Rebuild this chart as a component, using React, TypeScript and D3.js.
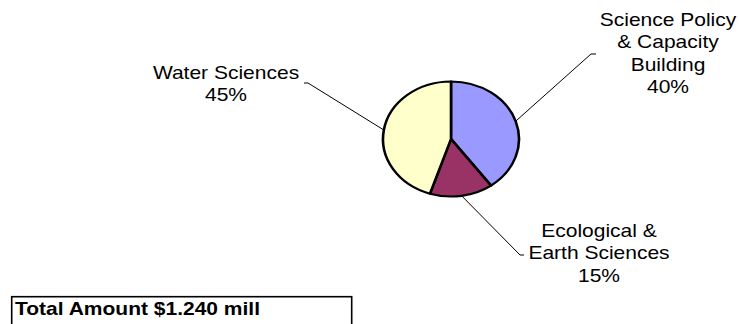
import React from "react";
import * as d3 from "d3";

// Funding split by programme area (percent of total)
const categories = [
  "Science Policy & Capacity Building",
  "Ecological & Earth Sciences",
  "Water Sciences",
];
const shares = [40, 15, 45];
const labelLines = [
  ["Science Policy", "& Capacity", "Building"],
  ["Ecological &", "Earth Sciences"],
  ["Water Sciences"],
];
const sliceColors = ["#9999FF", "#993366", "#FFFFCC"];
const totalNote = "Total Amount $1.240 mill";

const W = 739;
const H = 324;
const cx = 451;
const cy = 139;
const rx = 68;
const ry = 57.5;
const stretch = 1.13;
const fontSize = 18.6;
const lineGap = 22.5;

// label layout: text centre, first baseline, leader elbow and leader end
const labelLayout = [
  { x: 668, y: 26, elbow: [591, 54], end: [596, 54] },
  { x: 599, y: 237, elbow: [520, 255], end: [524, 255] },
  { x: 226, y: 79, elbow: [308, 83], end: [304, 83] },
];

export default function App() {
  const pie = d3
    .pie<number>()
    .sort(null)
    .value((d) => d)
    .startAngle(0)
    .endAngle(2 * Math.PI);
  const arcs = pie(shares);
  const arc = d3.arc<d3.PieArcDatum<number>>().innerRadius(0).outerRadius(ry);

  const edgePoint = (a: d3.PieArcDatum<number>) => {
    const m = (a.startAngle + a.endAngle) / 2;
    return [cx + Math.sin(m) * rx, cy - Math.cos(m) * ry];
  };

  return (
    <svg
      width={W}
      height={H}
      style={{ position: "absolute", left: 0, top: 0, background: "#fff" }}
      fontFamily="'Liberation Sans', Arial, sans-serif"
    >
      <rect width={W} height={H} fill="#fff" />
      {arcs.map((a, i) => {
        const [sx, sy] = edgePoint(a);
        const lay = labelLayout[i];
        return (
          <polyline
            key={"lead" + i}
            points={`${sx},${sy} ${lay.elbow[0]},${lay.elbow[1]} ${lay.end[0]},${lay.end[1]}`}
            fill="none"
            stroke="#000"
            strokeWidth={1}
          />
        );
      })}
      <g transform={`translate(${cx},${cy}) scale(${rx / ry},1)`}>
        {arcs.map((a, i) => (
          <path
            key={categories[i]}
            d={arc(a) || ""}
            fill={sliceColors[i]}
            stroke="#000"
            strokeWidth={2.2}
            strokeLinejoin="round"
          />
        ))}
      </g>
      {arcs.map((a, i) => {
        const lay = labelLayout[i];
        const lines = [...labelLines[i], `${shares[i]}%`];
        return (
          <g key={"lab" + i} transform={`translate(${lay.x},0) scale(${stretch},1)`}>
            {lines.map((t, j) => (
              <text
                key={j}
                x={0}
                y={lay.y + j * lineGap}
                textAnchor="middle"
                fontSize={fontSize}
                fill="#000"
              >
                {t}
              </text>
            ))}
          </g>
        );
      })}
      <rect
        x={11.7}
        y={296.7}
        width={340}
        height={50}
        fill="#fff"
        stroke="#000"
        strokeWidth={1.6}
      />
      <g transform={`translate(15,0) scale(${stretch},1)`}>
        <text x={0} y={315} fontSize={fontSize} fontWeight="bold" fill="#000">
          {totalNote}
        </text>
      </g>
    </svg>
  );
}
